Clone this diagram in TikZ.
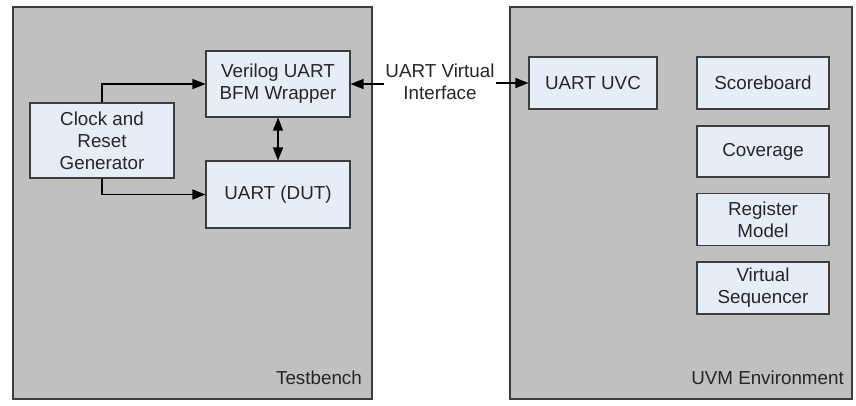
\documentclass[tikz,border=0pt]{standalone}
\usepackage{fontspec}
\setmainfont{Liberation Sans}
\usetikzlibrary{arrows.meta}
\definecolor{panelgray}{HTML}{C0C0C0}
\definecolor{boxfill}{HTML}{E6ECF8}
\definecolor{edge}{HTML}{3C3C3C}
\definecolor{ink}{HTML}{262626}
\begin{document}
\begin{tikzpicture}[x=1bp,y=-1bp,
  font=\fontsize{18.8bp}{22bp}\selectfont,
  panel/.style={draw=edge,line width=1.2bp,fill=panelgray},
  block/.style={draw=edge,line width=1.1bp,fill=boxfill,text=ink,align=center,
    inner sep=0pt},
  link/.style={draw=black,line width=1.2bp,-{Triangle[length=13bp,width=10bp]}},
  dlink/.style={draw=black,line width=1.2bp,{Triangle[length=13bp,width=10bp]}-{Triangle[length=13bp,width=10bp]}}]
\useasboundingbox (0,0) rectangle (856,405);
% the two enclosing panels
\draw[panel] (13,7) rectangle (372,399);
\draw[panel] (510,7) rectangle (852,399);
\node[text=ink,anchor=base east,inner sep=0pt] (tbl) at (362,384) {Testbench};
\node[text=ink,anchor=base east,inner sep=0pt] (uvml) at (844,384) {UVM Environment};
% testbench blocks
\node[block,minimum width=144bp,minimum height=66bp] (bfm) at (278,84) {Verilog UART\\BFM Wrapper};
\node[block,minimum width=144bp,minimum height=75bp] (clk) at (102,140.5) {Clock and\\Reset\\Generator};
\node[block,minimum width=144bp,minimum height=67bp] (dut) at (278,194.5) {UART (DUT)};
% UVM environment blocks
\node[block,minimum width=128bp,minimum height=52bp] (uvc) at (593,83) {UART UVC};
\node[block,minimum width=132bp,minimum height=52bp] (sb) at (763,83) {Scoreboard};
\node[block,minimum width=132bp,minimum height=51bp] (cov) at (763,151.5) {Coverage};
\node[block,minimum width=132bp,minimum height=52bp] (reg) at (763,219.5) {Register\\Model};
\node[block,minimum width=132bp,minimum height=52bp] (vseq) at (763,288) {Virtual\\Sequencer};
% virtual interface label between the panels
\node[text=ink,align=center,inner sep=1bp] (vif) at (440,82) {UART Virtual\\Interface};
% connectors
\draw[link] (clk.north) |- (bfm.west);
\draw[link] (clk.south) |- (dut.west);
\draw[dlink] (bfm.south) -- (dut.north);
\draw[link] (vif.west |- bfm.east) -- (bfm.east);
\draw[link] (vif.east |- uvc.west) -- (uvc.west);
\end{tikzpicture}
\end{document}
